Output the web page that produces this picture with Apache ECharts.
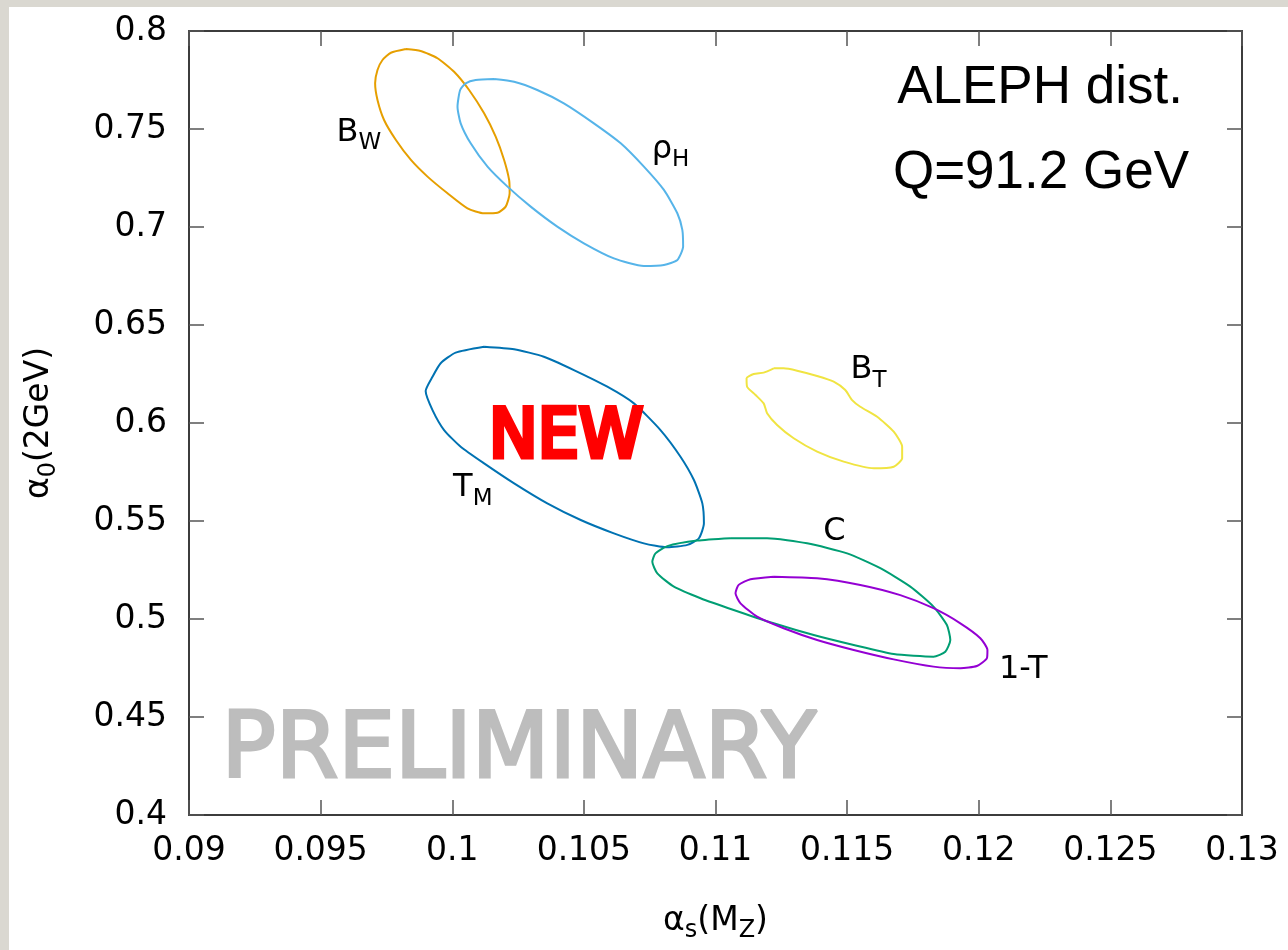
<!DOCTYPE html>
<html>
<head>
<meta charset="utf-8">
<script src="https://cdn.jsdelivr.net/npm/echarts@6/dist/echarts.min.js"></script>
<style>
  html, body { margin: 0; padding: 0; width: 1288px; height: 950px; background: #dad8d1; overflow: hidden; }
  #chart { position: absolute; left: 9px; top: 7px; width: 1279px; height: 943px; background: #ffffff; }
</style>
</head>
<body>
<div id="chart"></div>
<script>
// Axis tick labels
const xTickLabels = ['0.09', '0.095', '0.1', '0.105', '0.11', '0.115', '0.12', '0.125', '0.13'];
const yTickLabels = ['0.4', '0.45', '0.5', '0.55', '0.6', '0.65', '0.7', '0.75', '0.8'];

// Fit contours in the (alpha_s(MZ), alpha_0(2GeV)) plane, one closed loop per observable
const contourBW = [
  [0.09824, 0.7908], [0.09767, 0.7889], [0.09735, 0.7852], [0.09716, 0.7801], [0.09707, 0.7733],
  [0.09716, 0.7648], [0.09741, 0.7546], [0.09786, 0.7444], [0.09843, 0.7342], [0.09906, 0.7257],
  [0.09982, 0.7172], [0.10058, 0.7095], [0.10121, 0.7070], [0.10172, 0.7073], [0.10203, 0.7104],
  [0.10218, 0.7172], [0.10216, 0.7240], [0.10197, 0.7342], [0.10165, 0.7461], [0.10121, 0.7580],
  [0.10064, 0.7699], [0.10007, 0.7792], [0.09944, 0.7861], [0.09880, 0.7898], [0.09824, 0.7908]
];
const contourRhoH = [
  [0.10159, 0.7755], [0.10089, 0.7750], [0.10051, 0.7733], [0.10030, 0.7699], [0.10020, 0.7614],
  [0.10032, 0.7529], [0.10070, 0.7427], [0.10134, 0.7308], [0.10210, 0.7206], [0.10298, 0.7104],
  [0.10399, 0.7002], [0.10500, 0.6917], [0.10614, 0.6840], [0.10728, 0.6801], [0.10804, 0.6806],
  [0.10855, 0.6832], [0.10877, 0.6900], [0.10874, 0.6985], [0.10855, 0.7070], [0.10804, 0.7189],
  [0.10728, 0.7308], [0.10640, 0.7427], [0.10538, 0.7529], [0.10424, 0.7631], [0.10323, 0.7699],
  [0.10235, 0.7741], [0.10159, 0.7755]
];
const contourTM = [
  [0.10121, 0.6389], [0.10013, 0.6359], [0.09956, 0.6305], [0.09925, 0.6236], [0.09899, 0.6163],
  [0.09925, 0.6066], [0.09969, 0.5964], [0.10032, 0.5879], [0.10121, 0.5794], [0.10235, 0.5692],
  [0.10361, 0.5590], [0.10488, 0.5505], [0.10614, 0.5437], [0.10728, 0.5386], [0.10817, 0.5366],
  [0.10893, 0.5378], [0.10937, 0.5412], [0.10956, 0.5488], [0.10950, 0.5590], [0.10918, 0.5709],
  [0.10867, 0.5828], [0.10791, 0.5964], [0.10690, 0.6100], [0.10589, 0.6185], [0.10462, 0.6270],
  [0.10348, 0.6338], [0.10235, 0.6376], [0.10121, 0.6389]
];
const contourBT = [
  [0.11221, 0.6279], [0.11183, 0.6257], [0.11145, 0.6250], [0.11118, 0.6228], [0.11120, 0.6185],
  [0.11152, 0.6143], [0.11183, 0.6100], [0.11196, 0.6050], [0.11234, 0.5990], [0.11297, 0.5922],
  [0.11386, 0.5854], [0.11487, 0.5803], [0.11601, 0.5769], [0.11677, 0.5777], [0.11709, 0.5820],
  [0.11709, 0.5879], [0.11677, 0.5956], [0.11614, 0.6032], [0.11550, 0.6083], [0.11519, 0.6117],
  [0.11493, 0.6168], [0.11449, 0.6211], [0.11386, 0.6240], [0.11310, 0.6267], [0.11259, 0.6279],
  [0.11221, 0.6279]
];
const contourC = [
  [0.11057, 0.5412], [0.10931, 0.5400], [0.10817, 0.5372], [0.10772, 0.5335], [0.10760, 0.5292],
  [0.10779, 0.5233], [0.10842, 0.5165], [0.10943, 0.5106], [0.11069, 0.5046], [0.11221, 0.4978],
  [0.11373, 0.4918], [0.11525, 0.4867], [0.11677, 0.4821], [0.11828, 0.4808], [0.11873, 0.4833],
  [0.11892, 0.4893], [0.11879, 0.4969], [0.11828, 0.5063], [0.11740, 0.5165], [0.11626, 0.5259],
  [0.11500, 0.5335], [0.11348, 0.5386], [0.11196, 0.5412], [0.11057, 0.5412]
];
const contourOneMinusT = [
  [0.11221, 0.5216], [0.11133, 0.5203], [0.11088, 0.5174], [0.11076, 0.5131], [0.11095, 0.5080],
  [0.11158, 0.5012], [0.11259, 0.4953], [0.11386, 0.4893], [0.11525, 0.4842], [0.11677, 0.4794],
  [0.11828, 0.4757], [0.11930, 0.4749], [0.11993, 0.4760], [0.12031, 0.4800], [0.12033, 0.4842],
  [0.12006, 0.4902], [0.11930, 0.4978], [0.11828, 0.5055], [0.11702, 0.5122], [0.11550, 0.5174],
  [0.11386, 0.5208], [0.11221, 0.5216]
];

// Contour captions (rich text, subscripts in {s|...}) and their anchor points
const captionText = ['B{s|W}', 'ρ{s|H}', 'B{s|T}', 'T{s|M}', 'C', '1-T'];
const captionX = [0.09645, 0.10829, 0.11581, 0.10078, 0.11452, 0.12169];
const captionY = [0.7480, 0.7393, 0.6270, 0.5668, 0.5444, 0.4740];

const FONT = 'DejaVu Sans';
const AXIS_COLOR = '#3c3c3c';

function tickLabel(list, min, step) {
  return function (v) {
    const i = Math.round((v - min) / step);
    return list[i] !== undefined ? list[i] : '';
  };
}

function contourSeries(name, data, color) {
  return {
    name: name,
    type: 'line',
    data: data,
    symbol: 'none',
    smooth: 0.2,
    lineStyle: { color: color, width: 2 },
    silent: true,
    z: 3
  };
}

const subRich = {
  s: { fontFamily: FONT, fontSize: 24, lineHeight: 24, verticalAlign: 'bottom', color: '#000' }
};

const frameX = {
  type: 'value', min: 0.09, max: 0.13, interval: 0.005,
  axisLine: { show: true, onZero: false, lineStyle: { color: AXIS_COLOR, width: 2 } },
  axisTick: { show: true, inside: true, length: 15, lineStyle: { color: '#555', width: 1.5 } },
  splitLine: { show: false }
};
const frameY = {
  type: 'value', min: 0.4, max: 0.8, interval: 0.05,
  axisLine: { show: true, onZero: false, lineStyle: { color: AXIS_COLOR, width: 2 } },
  axisTick: { show: true, inside: true, length: 15, lineStyle: { color: '#555', width: 1.5 } },
  splitLine: { show: false }
};

const chart = echarts.init(document.getElementById('chart'), null, { renderer: 'canvas' });

chart.setOption({
  backgroundColor: '#ffffff',
  animation: false,
  grid: { left: 179, top: 24, right: 46, bottom: 135, containLabel: false },
  xAxis: [
    Object.assign({}, frameX, {
      position: 'bottom',
      axisLabel: {
        fontFamily: FONT, fontSize: 33, color: '#000', margin: 20,
        formatter: tickLabel(xTickLabels, 0.09, 0.005)
      },
      name: 'α{s|s}(M{s|Z})',
      nameLocation: 'middle',
      nameGap: 84,
      nameTextStyle: { fontFamily: FONT, fontSize: 33, lineHeight: 44, color: '#000', rich: subRich }
    }),
    Object.assign({}, frameX, { position: 'top', axisLabel: { show: false } })
  ],
  yAxis: [
    Object.assign({}, frameY, {
      position: 'left',
      axisLabel: {
        fontFamily: FONT, fontSize: 33, color: '#000', margin: 22,
        formatter: tickLabel(yTickLabels, 0.4, 0.05)
      },
      name: 'α{s|0}(2GeV)',
      nameLocation: 'middle',
      nameRotate: 90,
      nameGap: 128,
      nameTextStyle: { fontFamily: FONT, fontSize: 33, lineHeight: 44, color: '#000', rich: subRich }
    }),
    Object.assign({}, frameY, { position: 'right', axisLabel: { show: false } })
  ],
  series: [
    contourSeries('BW', contourBW, '#E69F00'),
    contourSeries('rhoH', contourRhoH, '#56B4E9'),
    contourSeries('TM', contourTM, '#0072B2'),
    contourSeries('BT', contourBT, '#F0E442'),
    contourSeries('C', contourC, '#009E73'),
    contourSeries('1-T', contourOneMinusT, '#9400D3'),
    {
      name: 'captions',
      type: 'scatter',
      symbolSize: 0,
      silent: true,
      z: 4,
      itemStyle: { opacity: 1 },
      data: captionText.map(function (t, i) { return { name: t, value: [captionX[i], captionY[i]] }; }),
      label: {
        show: true,
        position: 'inside',
        formatter: function (p) { return p.name; },
        fontFamily: FONT,
        fontSize: 32,
        lineHeight: 44,
        color: '#000',
        opacity: 1,
        textBorderWidth: 0,
        textBorderColor: 'transparent',
        rich: {
          s: { fontFamily: FONT, fontSize: 23, lineHeight: 23, verticalAlign: 'bottom', color: '#000',
               textBorderWidth: 0, textBorderColor: 'transparent' }
        }
      }
    }
  ],
  graphic: [
    {
      type: 'text', x: 1031, y: 81, silent: true, z: 10,
      style: { text: 'ALEPH dist.', fill: '#000', font: '53px "Liberation Sans", Arial, sans-serif', align: 'center', verticalAlign: 'middle' }
    },
    {
      type: 'text', x: 1032, y: 166, silent: true, z: 10,
      style: { text: 'Q=91.2 GeV', fill: '#000', font: '53px "Liberation Sans", Arial, sans-serif', align: 'center', verticalAlign: 'middle' }
    },
    {
      type: 'text', x: 557, y: 432, scaleY: 1.04, silent: true, z: 10,
      style: {
        text: 'NEW', fill: '#ff0000', font: '65px "DejaVu Sans", sans-serif',
        align: 'center', verticalAlign: 'middle',
        stroke: '#ff0000', lineWidth: 5, lineJoin: 'round', lineCap: 'round'
      }
    },
    {
      type: 'text', x: 510, y: 747, silent: true, z: 1,
      style: {
        text: 'PRELIMINARY', fill: '#bdbdbd', font: '90px "DejaVu Sans", sans-serif',
        align: 'center', verticalAlign: 'middle',
        stroke: '#bdbdbd', lineWidth: 3, lineJoin: 'round', lineCap: 'round'
      }
    }
  ]
});
</script>
</body>
</html>
